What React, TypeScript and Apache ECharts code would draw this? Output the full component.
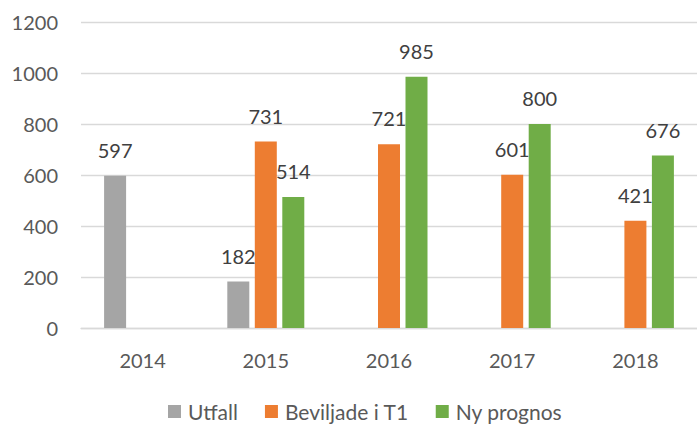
import React, { useEffect, useRef } from "react";
import * as echarts from "echarts";

const categories = ["2014", "2015", "2016", "2017", "2018"];
const utfall = [597, 182, null, null, null];
const beviljade = [null, 731, 721, 601, 421];
const nyPrognos = [null, 514, 985, 800, 676];
const seriesNames = ["Utfall", "Beviljade i T1", "Ny prognos"];
const colors = ["#a5a5a5", "#ed7d31", "#70ad47"];

export default function App() {
  const ref = useRef<HTMLDivElement>(null);
  useEffect(() => {
    if (!ref.current) return;
    const chart = echarts.init(ref.current, undefined, { renderer: "svg" });
    const font = "Lato, 'Open Sans', sans-serif";
    const label = {
      show: true,
      position: "top" as const,
      distance: 16,
      fontFamily: font,
      fontSize: 20,
      lineHeight: 20,
      color: "#404040",
    };
    const data = [utfall, beviljade, nyPrognos];
    chart.setOption({
      animation: false,
      textStyle: { fontFamily: font },
      grid: { left: 81, right: -8, top: 22, bottom: 96, containLabel: false },
      legend: {
        left: 163,
        top: 396,
        padding: 5,
        itemWidth: 13,
        itemHeight: 13,
        itemGap: 27,
        icon: "rect",
        textStyle: { fontFamily: font, fontSize: 21, lineHeight: 21, color: "#595959", padding: [0, 0, 0, 2] },
        data: seriesNames,
      },
      xAxis: {
        type: "category",
        data: categories,
        axisLine: { show: true, lineStyle: { color: "#d9d9d9", width: 1.3 } },
        axisTick: { show: false },
        axisLabel: { margin: 22, fontFamily: font, fontSize: 20, color: "#595959" },
      },
      yAxis: {
        type: "value",
        min: 0,
        max: 1200,
        interval: 200,
        axisLine: { show: false },
        axisTick: { show: false },
        splitLine: { lineStyle: { color: "#d9d9d9", width: 1.3 } },
        axisLabel: {
          margin: 23,
          fontFamily: font,
          fontSize: 20,
          color: "#595959",
          formatter: (v: number) => String(v),
        },
      },
      series: seriesNames.map((name, i) => ({
        name,
        type: "bar",
        data: data[i],
        barWidth: 22,
        barGap: "25%",
        itemStyle: { color: colors[i] },
        label,
      })),
    });
    return () => chart.dispose();
  }, []);
  return (
    <div
      ref={ref}
      style={{ position: "fixed", left: 0, top: 0, width: 697, height: 424, background: "#fff" }}
    />
  );
}
